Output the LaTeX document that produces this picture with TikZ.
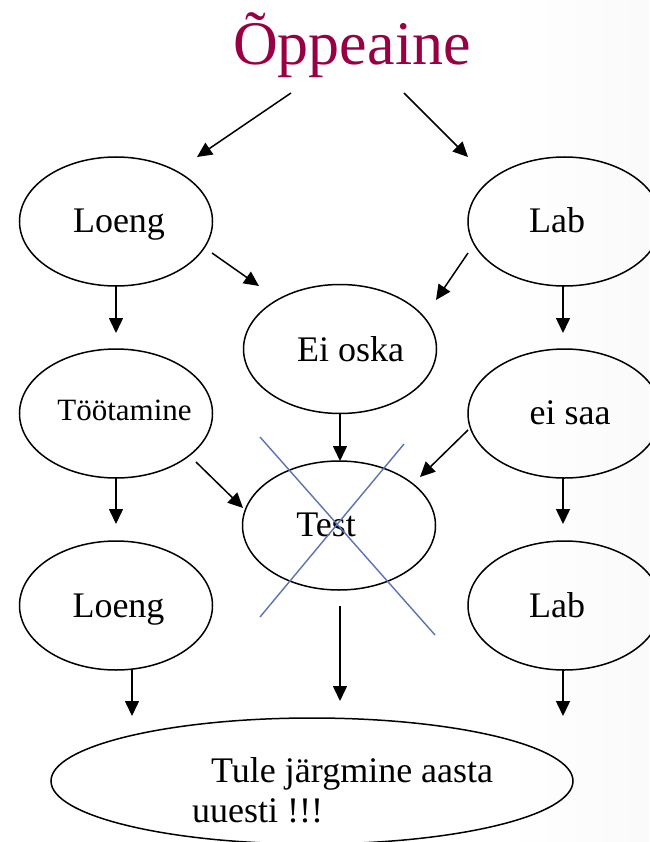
\documentclass[tikz,border=0pt]{standalone}
\usepackage{fontspec}
\setmainfont{Liberation Serif}
\usetikzlibrary{arrows.meta,shapes.geometric}
\definecolor{titlered}{RGB}{153,0,68}
\definecolor{xblue}{RGB}{92,114,180}
\pgfdeclarehorizontalshading{bgshade}{100bp}{color(0bp)=(white); color(64bp)=(white); color(80bp)=(black!3); color(92bp)=(black!6); color(100bp)=(black!11)}
\tikzset{
  oval/.style={draw, ellipse, line width=1.5pt, inner sep=0pt, minimum width=193pt, minimum height=129pt},
  lbl/.style={anchor=base, inner sep=0pt, font=\fontsize{36}{40}\selectfont},
  arr/.style={line width=1.5pt, -{Triangle[length=15pt,width=14pt]}},
  cross/.style={xblue, line width=1.4pt}
}
\begin{document}
\begin{tikzpicture}[x=1pt,y=-1pt]
\useasboundingbox (0,0) rectangle (649,842);
\shade[shading=bgshade] (0,0) rectangle (649,842);

% title
\node[anchor=base, inner sep=0pt, text=titlered, font=\fontsize{62}{66}\selectfont] (title) at (352,65) {Õppeaine};

% ellipses
\node[oval] (L1) at (116,221.5) {};
\node[oval] (R1) at (564.5,221.5) {};
\node[oval] (E)  at (340,349) {};
\node[oval] (T1) at (116,413.5) {};
\node[oval] (R2) at (564.5,413.5) {};
\node[oval] (TS) at (339,525.5) {};
\node[oval] (L2) at (116,605.5) {};
\node[oval] (R3) at (564.5,605.5) {};
\node[oval, minimum width=522pt, minimum height=126pt] (B) at (312,781) {};

% texts
\node[lbl] (tL1) at (119,233) {Loeng};
\node[lbl] (tR1) at (557,233) {Lab};
\node[lbl] (tE)  at (350.5,361) {Ei oska};
\node[lbl, font=\fontsize{31}{35}\selectfont] (tT1) at (124.5,420) {Töötamine};
\node[lbl] (tR2) at (570,424) {ei saa};
\node[lbl] (tTS) at (326,536) {Test};
\node[lbl] (tL2) at (118.5,617) {Loeng};
\node[lbl] (tR3) at (557,617) {Lab};
\node[lbl, anchor=base west] (tB1) at (211,782) {Tule järgmine aasta};
\node[lbl, anchor=base west] (tB2) at (192,822) {uuesti !!!};

% arrow end points
\coordinate (a1s) at (291,93);  \coordinate (a1e) at (197,157);
\coordinate (a2s) at (404,93);  \coordinate (a2e) at (468,157);
\coordinate (a3s) at (212,253); \coordinate (a3e) at (259,286);
\coordinate (a4s) at (468,253); \coordinate (a4e) at (436,300);
\coordinate (a5s) at (116,286); \coordinate (a5e) at (116,333);
\coordinate (a6s) at (563,286); \coordinate (a6e) at (563,333);
\coordinate (a7s) at (340,413); \coordinate (a7e) at (340,461);
\coordinate (a8s) at (196,462); \coordinate (a8e) at (243,508);
\coordinate (a9s) at (468,430); \coordinate (a9e) at (420,477);
\coordinate (a10s) at (116,477); \coordinate (a10e) at (116,524);
\coordinate (a11s) at (563,477); \coordinate (a11e) at (563,524);
\coordinate (a12s) at (340,606); \coordinate (a12e) at (340,701);
\coordinate (a13s) at (132,669); \coordinate (a13e) at (132,716);
\coordinate (a14s) at (563,669); \coordinate (a14e) at (563,716);

\foreach \i in {1,...,14} \draw[arr] (a\i s) -- (a\i e);

% cross over Test
\coordinate (x1s) at (260,437); \coordinate (x1e) at (435,635);
\coordinate (x2s) at (404,444); \coordinate (x2e) at (260,617);
\draw[cross] (x1s) -- (x1e);
\draw[cross] (x2s) -- (x2e);
\end{tikzpicture}
\end{document}
